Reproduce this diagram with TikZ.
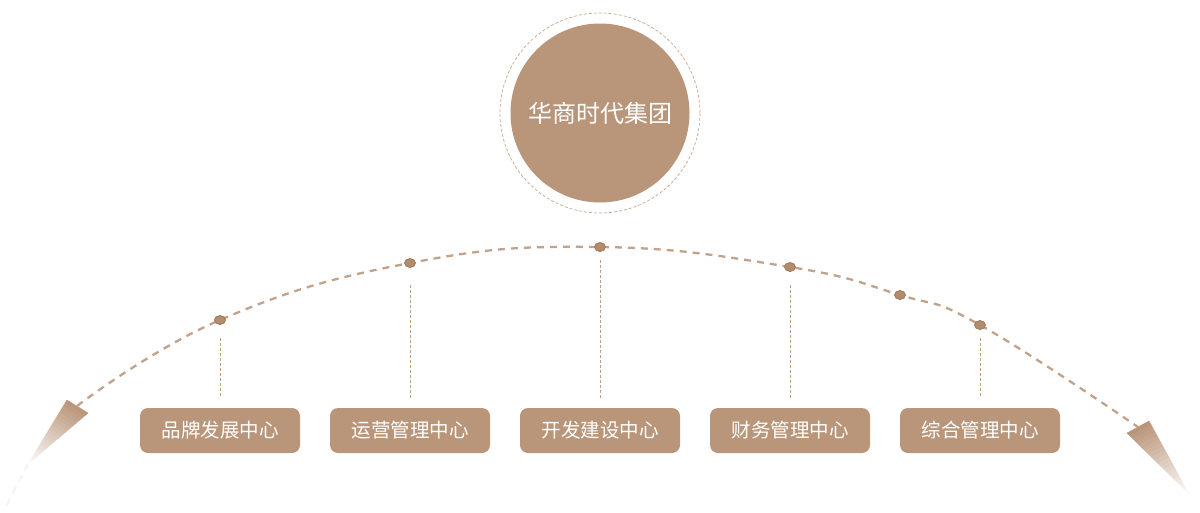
\documentclass[tikz,border=0pt]{standalone}
\usepackage{fontspec}
\usepackage{xcolor}
\usetikzlibrary{calc, shapes.geometric}
\newfontfamily\cjk{Noto Sans CJK SC}
\definecolor{hubbrown}{HTML}{B99579}
\definecolor{dotbrown}{HTML}{B28C6C}
\definecolor{dotedge}{HTML}{9E7A5C}
\definecolor{dashbrown}{HTML}{C2A28A}
\definecolor{stembrown}{HTML}{C19D80}
\definecolor{ringbrown}{HTML}{C9A68C}
\tikzset{
  hub/.style={circle, fill=hubbrown, minimum size=179pt, inner sep=0pt, text=white, font=\cjk\fontsize{24}{28}\selectfont},
  centre/.style={rectangle, rounded corners=8pt, fill=hubbrown, minimum width=160pt, minimum height=45pt, inner sep=0pt, text=white, font=\cjk\fontsize{19.5}{23}\selectfont},
  dot/.style={ellipse, fill=dotbrown, draw=dotedge, line width=0.8pt, minimum width=11pt, minimum height=9pt, inner sep=0pt},
  arcline/.style={dashbrown, line width=2.3pt, dash pattern=on 7pt off 6pt},
  stem/.style={stembrown, line width=0.8pt, dash pattern=on 3pt off 2pt},
  ringline/.style={ringbrown, line width=0.7pt, dash pattern=on 3pt off 2pt}
}
\begin{document}
\begin{tikzpicture}[x=1pt, y=-1pt]
\useasboundingbox (0,0) rectangle (1200,512);
\node[hub] (hub) at (600,113) {华商时代集团};
\draw[ringline] (hub.center) circle[radius=100];
%Arc
\coordinate (lbase) at (77,406);
\coordinate (rbase) at (1138,427);
\coordinate (la1) at (67,400);
\coordinate (la2) at (88,413);
\coordinate (ltip) at (28,464);
\coordinate (ra1) at (1127,433);
\coordinate (ra2) at (1149,421);
\coordinate (rtip) at (1189,494);
\coordinate (lend) at (4,510);
\draw[arcline] plot[smooth, tension=0.75] coordinates {(lbase) (220,320) (410,263) (600,247) (790,267) (900,295) (980,325) (rbase)};
\draw[arcline, draw opacity=0.12] (ltip) -- (lend);
\foreach \a/\b/\c in {la1/la2/ltip, ra1/ra2/rtip}
  \foreach \i in {0,...,19} {
    \pgfmathsetmacro\s{\i/20}
    \pgfmathsetmacro\t{(\i+1)/20}
    \pgfmathtruncatemacro\p{100-5*\i}
    \path[fill=hubbrown!\p!white, draw=hubbrown!\p!white, line width=0.4pt]
      ($(\a)!\s!(\c)$) -- ($(\b)!\s!(\c)$) -- ($(\b)!\t!(\c)$) -- ($(\a)!\t!(\c)$) -- cycle;
  }
%Dots
\node[dot] (dbrand) at (220,320) {};
\node[dot] (dops) at (410,263) {};
\node[dot] (dbuild) at (600,247) {};
\node[dot] (dfin) at (790,267) {};
\node[dot] (dextra) at (900,295) {};
\node[dot] (dadmin) at (980,325) {};
%Text
\node[centre] (brand) at (220,430.5) {品牌发展中心};
\node[centre] (ops) at (410,430.5) {运营管理中心};
\node[centre] (build) at (600,430.5) {开发建设中心};
\node[centre] (fin) at (790,430.5) {财务管理中心};
\node[centre] (admin) at (980,430.5) {综合管理中心};
\foreach \d/\b/\g in {dbrand/brand/13, dops/ops/17, dbuild/build/8, dfin/fin/13, dadmin/admin/8}
  \draw[stem, shorten <=\g pt, shorten >=10pt] (\d) -- (\b);
\end{tikzpicture}
\end{document}
